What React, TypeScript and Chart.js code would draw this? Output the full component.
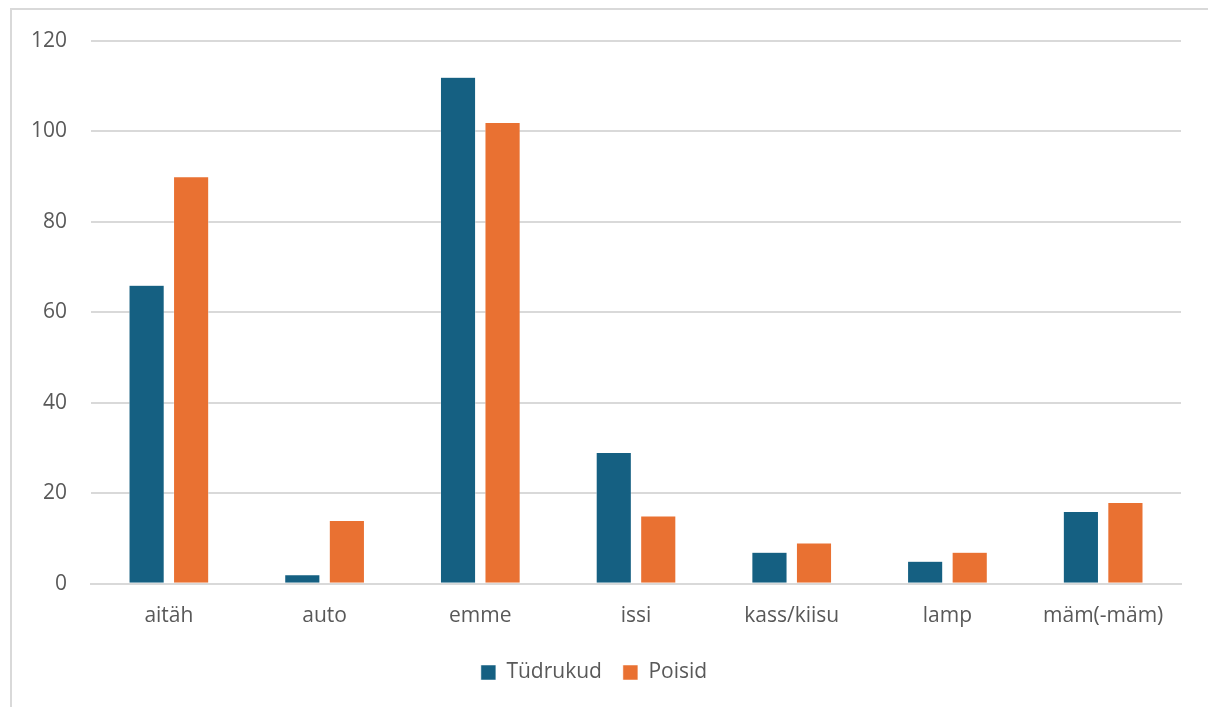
import React, { useEffect, useRef } from "react";
import { Chart, registerables } from "chart.js";

Chart.register(...registerables);

const categories = ["aitäh", "auto", "emme", "issi", "kass/kiisu", "lamp", "mäm(-mäm)"];
const girls = [66, 2, 112, 29, 7, 5, 16];
const boys = [90, 14, 102, 15, 9, 7, 18];
const seriesNames = ["Tüdrukud", "Poisid"];
const yTicks = [0, 20, 40, 60, 80, 100, 120];

const FONT = "'Open Sans', Roboto, sans-serif";

export default function App() {
  const ref = useRef<HTMLCanvasElement | null>(null);
  useEffect(() => {
    if (!ref.current) return;
    const chart = new Chart(ref.current, {
      type: "bar",
      data: {
        labels: categories,
        datasets: [
          { label: seriesNames[0], data: girls, backgroundColor: "#156082", borderColor: "#ffffff", borderWidth: 0.5, barPercentage: 0.79, categoryPercentage: 0.572 },
          { label: seriesNames[1], data: boys, backgroundColor: "#E97132", borderColor: "#ffffff", borderWidth: 0.5, barPercentage: 0.79, categoryPercentage: 0.572 },
        ],
      },
      options: {
        animation: false,
        responsive: false,
        maintainAspectRatio: false,
        layout: { padding: { top: 41, right: 27, bottom: 14, left: 7 } },
        plugins: {
          legend: {
            position: "bottom",
            labels: {
              boxWidth: 15,
              boxHeight: 15,
              padding: 21,
              color: "#595959",
              font: { family: FONT, size: 21 },
            },
          },
          tooltip: { enabled: false },
        },
        scales: {
          x: {
            grid: { display: false },
            border: { color: "#d9d9d9", width: 2 },
            ticks: { color: "#595959", font: { family: FONT, size: 21 }, padding: 12 },
          },
          y: {
            min: 0,
            max: 120,
            afterBuildTicks: (axis: any) => {
              axis.ticks = yTicks.map((v) => ({ value: v }));
            },
            grid: { color: "#d9d9d9", lineWidth: 2, drawTicks: false },
            border: { display: false },
            ticks: { color: "#595959", font: { family: FONT, size: 21 }, padding: 24 },
          },
        },
      },
    });
    return () => chart.destroy();
  }, []);
  return (
    <div style={{ position: "fixed", left: 0, top: 0, width: 1208, height: 707, background: "#fff", overflow: "hidden" }}>
      <div style={{ position: "absolute", left: 10, top: 8, width: 1220, height: 720, border: "2px solid #d9d9d9", boxSizing: "border-box" }} />
      <canvas ref={ref} width={1208} height={707} style={{ position: "absolute", left: 0, top: 0, width: 1208, height: 707 }} />
    </div>
  );
}
